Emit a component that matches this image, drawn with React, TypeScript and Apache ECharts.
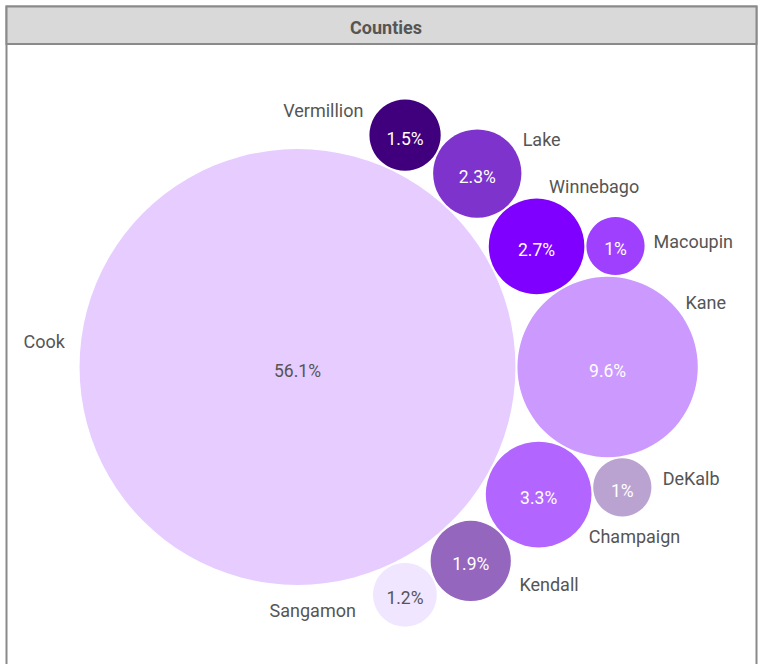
import React, { useEffect, useRef } from "react";
import * as echarts from "echarts";

// ---- data ----
const counties = ["Cook", "Vermillion", "Lake", "Winnebago", "Macoupin", "Kane", "DeKalb", "Champaign", "Kendall", "Sangamon"];
const shares = [56.1, 1.5, 2.3, 2.7, 1.0, 9.6, 1.0, 3.3, 1.9, 1.2];
const colors = ["#e6ccff", "#40007d", "#7d33cc", "#8000ff", "#9f40ff", "#cc99ff", "#bba3d1", "#b266ff", "#9466bd", "#f0e6ff"];
const innerTextColors = ["#555555", "#ffffff", "#ffffff", "#ffffff", "#ffffff", "#ffffff", "#ffffff", "#ffffff", "#ffffff", "#555555"];

// ---- packing layout: each bubble touches one or two already placed bubbles ----
const placement: { name: string; a?: string; b?: string; side?: number; angle?: number }[] = [
  { name: "Cook" },
  { name: "Kane", a: "Cook", angle: 0 },
  { name: "Winnebago", a: "Cook", b: "Kane", side: 1 },
  { name: "Lake", a: "Cook", b: "Winnebago", side: 1 },
  { name: "Vermillion", a: "Cook", b: "Lake", side: 1 },
  { name: "Macoupin", a: "Winnebago", b: "Kane", side: 1 },
  { name: "Champaign", a: "Cook", b: "Kane", side: -1 },
  { name: "DeKalb", a: "Kane", b: "Champaign", side: 1 },
  { name: "Kendall", a: "Cook", b: "Champaign", side: -1 },
  { name: "Sangamon", a: "Cook", b: "Kendall", side: -1 },
];
// label direction (degrees, counter-clockwise) and distance from the bubble edge
const labelAngle = [174, 151, 36, 78, 4.5, 39, 11, -41, -27, -161];
const labelGap = [16, 12, 12, 12.5, 9, 10, 12, 13.5, 14.5, 20];

const RADIUS_PER_SQRT = 29.1; // radius units per sqrt(share)
const GAP = 2;

function computeLayout() {
  const r: Record<string, number> = {};
  counties.forEach((c, i) => (r[c] = RADIUS_PER_SQRT * Math.sqrt(shares[i])));
  const pos: Record<string, [number, number]> = {};
  placement.forEach((p) => {
    if (!p.a) {
      pos[p.name] = [0, 0];
      return;
    }
    const A = pos[p.a];
    if (!p.b) {
      const d = r[p.a] + r[p.name] + GAP;
      const t = ((p.angle || 0) * Math.PI) / 180;
      pos[p.name] = [A[0] + d * Math.cos(t), A[1] + d * Math.sin(t)];
      return;
    }
    const B = pos[p.b];
    const dA = r[p.a] + r[p.name] + GAP;
    const dB = r[p.b] + r[p.name] + GAP;
    const dx = B[0] - A[0];
    const dy = B[1] - A[1];
    const d = Math.hypot(dx, dy);
    const ex = [dx / d, dy / d];
    const ey = [-ex[1], ex[0]];
    const x = (d * d + dA * dA - dB * dB) / (2 * d);
    const h = Math.sqrt(Math.max(0, dA * dA - x * x)) * (p.side || 1);
    pos[p.name] = [A[0] + ex[0] * x + ey[0] * h, A[1] + ex[1] * x + ey[1] * h];
  });
  return counties.map((c, i) => [pos[c][0], pos[c][1], r[c], i]);
}

export default function App() {
  const ref = useRef<HTMLDivElement>(null);
  useEffect(() => {
    if (!ref.current) return;
    const chart = echarts.init(ref.current, undefined, { renderer: "svg" });
    const data = computeLayout();
    chart.setOption({
      animation: false,
      graphic: [
        {
          type: "rect",
          shape: { x: 6.5, y: 6.5, width: 750, height: 720 },
          style: { fill: "#ffffff", stroke: "#8a8a8a", lineWidth: 2 },
          z: -10,
        },
        {
          type: "rect",
          shape: { x: 6.5, y: 6.5, width: 750, height: 37.5 },
          style: { fill: "#d9d9d9", stroke: "#8a8a8a", lineWidth: 2 },
          z: -9,
        },
        {
          type: "text",
          x: 386,
          y: 27,
          style: {
            text: "Counties",
            align: "center",
            verticalAlign: "middle",
            font: "bold 18px Roboto",
            fill: "#555555",
          },
        },
      ],
      grid: { left: 0, right: 0, top: 0, bottom: 0 },
      xAxis: { type: "value", min: -297.5, max: 460.5, show: false },
      yAxis: { type: "value", min: -297, max: 367, show: false },
      series: [
        {
          type: "custom",
          data,
          renderItem: (params: any, api: any) => {
            const i = api.value(3);
            const c = api.coord([api.value(0), api.value(1)]);
            const rp = api.size([api.value(2), 0])[0];
            const t = (labelAngle[i] * Math.PI) / 180;
            const dist = rp + labelGap[i];
            const lx = c[0] + dist * Math.cos(t);
            const ly = c[1] - dist * Math.sin(t) - 1.3;
            return {
              type: "group",
              children: [
                {
                  type: "circle",
                  shape: { cx: c[0], cy: c[1], r: rp },
                  style: { fill: colors[i] },
                },
                {
                  type: "text",
                  x: c[0],
                  y: c[1] + 3.5,
                  style: {
                    text: shares[i] + "%",
                    align: "center",
                    verticalAlign: "middle",
                    font: "17.5px Roboto",
                    fill: innerTextColors[i],
                  },
                },
                {
                  type: "text",
                  x: lx,
                  y: ly,
                  style: {
                    text: counties[i],
                    align: Math.cos(t) >= 0 ? "left" : "right",
                    verticalAlign: "middle",
                    font: "18px Roboto",
                    fill: "#555555",
                  },
                },
              ],
            };
          },
        },
      ],
    });
    return () => chart.dispose();
  }, []);
  return (
    <div
      ref={ref}
      style={{ position: "fixed", left: 0, top: 0, width: 758, height: 664, background: "#ffffff" }}
    />
  );
}
